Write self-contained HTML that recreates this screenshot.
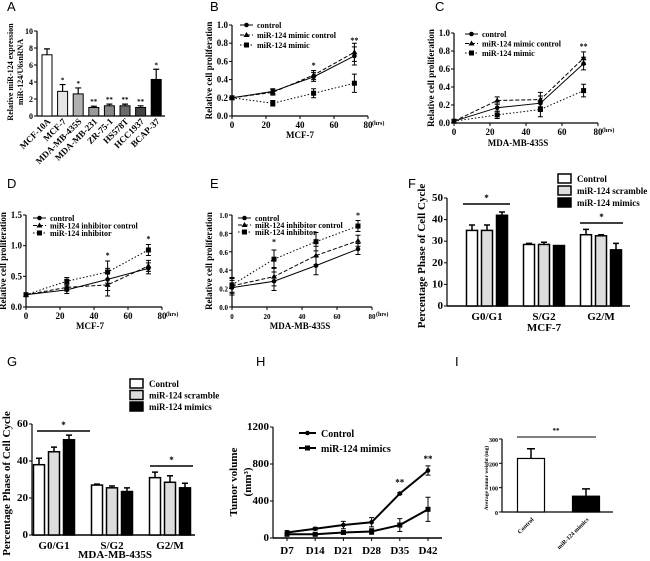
<!DOCTYPE html>
<html><head><meta charset="utf-8">
<style>
html,body{margin:0;padding:0;background:#fff;}
svg{display:block;font-family:"Liberation Serif",serif;font-weight:bold;}
.L{font-family:"Liberation Sans",sans-serif;font-weight:normal;font-size:13px;}
</style></head>
<body>
<svg id="fig" width="650" height="561" viewBox="0 0 650 561" xmlns="http://www.w3.org/2000/svg"></svg>
<script>
// ===== Panel A data =====
const aCats=["MCF-10A","MCF-7","MDA-MB-435S","MDA-MB-231","ZR-75-1","HS578T","HCC1937","BCAP-37"];
const aVals=[7.2,2.9,2.6,1.0,1.2,1.2,1.0,4.3];
const aErr=[0.7,0.8,0.7,0.15,0.2,0.2,0.2,1.2];
const aStars=["","*","*","**","**","**","**","*"];
// ===== Time course data =====
const hrs=[0,24,48,72];
const xTicksHrs=[0,20,40,60,80];
const bCtrl=[0.2,0.27,0.43,0.66], bMimCtrl=[0.2,0.26,0.45,0.70], bMimic=[0.2,0.14,0.25,0.36];
const bErr=[0,0.03,0.05,0.1];
const cCtrl=[0.02,0.17,0.22,0.66], cMimCtrl=[0.02,0.25,0.26,0.72], cMimic=[0.02,0.09,0.15,0.36];
const cErr=[0,0.04,0.08,0.07];
const dCtrl=[0.2,0.28,0.45,0.63], dInhCtrl=[0.2,0.32,0.36,0.67], dInh=[0.2,0.42,0.57,0.93];
const dErr=[0,0.06,0.18,0.09];
const eCtrl=[0.21,0.28,0.45,0.63], eInhCtrl=[0.23,0.33,0.56,0.72], eInh=[0.24,0.52,0.71,0.88];
const eErr=[0.08,0.1,0.1,0.06];
// ===== Cell cycle data =====
const phases=["G0/G1","S/G2","G2/M"];
const fCtrl=[35,28.5,33], fScr=[35,28.5,32.5], fMim=[42,28,26];
const fErrC=[2.5,0.5,2.5], fErrS=[2.5,1,0.5], fErrM=[1.5,0,3];
const gCtrl=[38,27,31], gScr=[45,25.5,28.5], gMim=[51.5,23.5,25.5];
const gErrC=[3.5,0.5,3], gErrS=[2.5,1,3.5], gErrM=[2.5,2,2.5];
// ===== Tumor data =====
const days=["D7","D14","D21","D28","D35","D42"];
const hCtrl=[60,100,140,170,480,730], hMim=[40,40,60,70,140,310];
const hErrC=[20,15,40,50,10,50], hErrM=[15,15,15,30,70,130];
const iCats=["Control","miR-124 mimics"], iVals=[220,65], iErr=[40,30];

const S=document.getElementById('fig'), NS="http://www.w3.org/2000/svg";
function mk(p,tag,at){const e=document.createElementNS(NS,tag);for(const k in at)e.setAttribute(k,at[k]);p.appendChild(e);return e;}
function txt(p,x,y,s,size,anchor,name,extra){const e=mk(p,'text',Object.assign({x:x,y:y,'font-size':size,'text-anchor':anchor||'middle'},extra||{}));e.textContent=s;


return e;}
function grp(name){const g=mk(S,'g',{});


return g;}
function letter(s,x,y){const e=txt(S,x,y,s,13,'start','panel-label-'+s.toLowerCase());e.setAttribute('class','L');}
function yAxis(g,ox,oy,ytop,ymax,ticks,fmt,fs){
  const l=mk(g,'line',{x1:ox,y1:oy,x2:ox,y2:ytop,stroke:'#000','stroke-width':1.2});
  
  
  ticks.forEach(t=>{const y=oy-t/ymax*(oy-ytop);mk(g,'line',{x1:ox-3,y1:y,x2:ox,y2:y,stroke:'#000'});txt(g,ox-4,y+3,fmt(t),fs||9,'end','y-tick-label');});
}
function markerAt(g,kind,x,y,name){let e;
  if(kind==='c')e=mk(g,'circle',{cx:x,cy:y,r:2.3,fill:'#000'});
  else if(kind==='t')e=mk(g,'path',{d:`M${x},${y-3}L${x+3},${y+2}L${x-3},${y+2}Z`,fill:'#000'});
  else e=mk(g,'rect',{x:x-2.5,y:y-2.5,width:5,height:5,fill:'#000'});
  
  
}
function series(g,xs,ys,X,Y,dash,kind,err,name,sw){
  const pts=xs.map((v,i)=>X(v)+','+Y(ys[i])).join(' ');
  const pl=mk(g,'polyline',{points:pts,fill:'none',stroke:'#000','stroke-width':sw||1,'stroke-dasharray':dash});
  
  
  xs.forEach((v,i)=>{const x=X(v),y=Y(ys[i]);
    if(err&&err[i]>0){const y1=Y(ys[i]+err[i]),y2=Y(ys[i]-err[i]);mk(g,'path',{d:`M${x},${y1}V${y2}M${x-2.5},${y1}H${x+2.5}M${x-2.5},${y2}H${x+2.5}`,stroke:'#000','stroke-width':1,fill:'none'});}
    markerAt(g,kind,x,y,name+'-point');});
}
function lineLegend(g,x,y0,dy,labels,kinds,dashes){labels.forEach((s,i)=>{const y=y0+i*dy;
  const l=mk(g,'line',{x1:x,y1:y,x2:x+13,y2:y,stroke:'#000','stroke-dasharray':dashes[i]});
  
  
  markerAt(g,kinds[i],x+6.5,y,'legend-marker');txt(g,x+17,y+3,s,8,'start','legend-entry');});}
function timePanel(name,ox,oy,x80,ytop,ymax,yt,yfmt,data,err,labels,leg,xlabel,xl,fs){
  const g=grp(name);
  const X=v=>ox+v/80*(x80-ox), Y=v=>oy-v/ymax*(oy-ytop);
  yAxis(g,ox,oy,ytop,ymax,yt,yfmt,fs);
  const xa=mk(g,'line',{x1:ox,y1:oy,x2:x80,y2:oy,stroke:'#000','stroke-width':1.2});
  
  
  xTicksHrs.forEach(t=>{mk(g,'line',{x1:X(t),y1:oy,x2:X(t),y2:oy+3,stroke:'#000'});txt(g,X(t),oy+12,String(t),fs||9,'middle','x-tick-label');});
  txt(g,x80+4,oy+9,'(hrs)',6,'start','x-unit');
  const kinds=['c','t','s'],dashes=['none','4,2','1.5,2'];
  data.forEach((d,i)=>series(g,hrs,d,X,Y,dashes[i],kinds[i],err,labels[i].replace(/\s+/g,'-').toLowerCase()));
  lineLegend(g,leg[0],leg[1],leg[2],labels,kinds,dashes);
  txt(g,xl[0],xl[1],xlabel,9,'middle','x-axis-title');
  txt(g,0,0,'Relative cell proliferation',9,'middle','y-axis-title',{transform:`translate(${ox-20},${(oy+ytop)/2}) rotate(-90)`});
  return {g,X,Y};
}
function barPanel(name,ox,oy,ytop,ymax,yt,xend,centers,vals,errs,xlabel,xl,sig,leg){
  const g=grp(name);
  const Y=v=>oy-v/ymax*(oy-ytop);
  yAxis(g,ox,oy,ytop,ymax,yt,String,11);
  const xa=mk(g,'line',{x1:ox,y1:oy,x2:xend,y2:oy,stroke:'#000','stroke-width':1.5});
  
  
  const fills=['#fff','#ddd','#000'],off=[-15,0,15],nm=['control','scramble','mimics'];
  vals.forEach((ser,si)=>ser.forEach((v,i)=>{const x=centers[i]+off[si];
    const e=errs[si][i];
    if(e>0)mk(g,'path',{d:`M${x},${Y(v)}V${Y(v+e)}M${x-3},${Y(v+e)}H${x+3}`,stroke:'#000','stroke-width':1.5});
    const r=mk(g,'rect',{x:x-5.5,y:Y(v),width:11,height:oy-Y(v),fill:fills[si],stroke:'#000','stroke-width':1.5});
    
    }));
  phases.forEach((p,i)=>txt(g,centers[i],oy+14,p,11,'middle','x-tick-label'));
  txt(g,xl[0],xl[1],xlabel,11,'middle','x-axis-title');
  txt(g,0,0,'Percentage Phase of Cell Cycle',11,'middle','y-axis-title',{transform:`translate(${ox-22},${(oy+ytop)/2+4}) rotate(-90)`});
  sig.forEach(s=>{mk(g,'line',{x1:s[0],y1:s[2],x2:s[1],y2:s[2],stroke:'#000','stroke-width':1.5});txt(g,(s[0]+s[1])/2,s[2]-3,'*',9,'middle','significance-star');});
  ['Control','miR-124 scramble','miR-124 mimics'].forEach((s,i)=>{const y=leg[1]+i*leg[2];
    const r=mk(g,'rect',{x:leg[0],y:y-4,width:13,height:9,fill:fills[i],stroke:'#000','stroke-width':1.5});
    
    
    txt(g,leg[0]+19,y+4,s,9,'start','legend-entry');});
}

// Panel letters
[['A',7,11],['B',210,11],['C',435,11],['D',7,188],['E',210,188],['F',408,188],['G',7,366],['H',256,366],['I',455,366]].forEach(a=>letter(a[0],a[1],a[2]));

// ===== Panel A =====
(function(){const g=grp('panel-a');const ox=37,oy=116,ytop=31,ymax=10;
  const Y=v=>oy-v/ymax*(oy-ytop), X=i=>47+i*15.6;
  yAxis(g,ox,oy,ytop,ymax,[0,2,4,6,8,10],String,8);
  const xa=mk(g,'line',{x1:ox,y1:oy,x2:165,y2:oy,stroke:'#000','stroke-width':1.2});
  
  
  const fills=['#fff','#e6e6e6','#b0b0b0','#9a9a9a','#888','#6a6a6a','#444','#000'];
  aVals.forEach((v,i)=>{const x=X(i);
    mk(g,'path',{d:`M${x},${Y(v)}V${Y(v+aErr[i])}M${x-3},${Y(v+aErr[i])}H${x+3}`,stroke:'#000','stroke-width':1.2});
    const r=mk(g,'rect',{x:x-5,y:Y(v),width:10,height:oy-Y(v),fill:fills[i],stroke:'#000','stroke-width':1});
    
    
    txt(g,x,Y(v+aErr[i])-2,aStars[i],7,'middle','significance-star');
    txt(g,0,0,aCats[i],9,'end','x-tick-label',{transform:`translate(${x+4},${oy+6}) rotate(-45)`});});
  txt(g,0,0,'Relative miR-124 expression',8,'middle','y-axis-title',{transform:`translate(13,72) rotate(-90)`});
  txt(g,0,0,'miR-124/U6snRNA',8,'middle','y-axis-title-2',{transform:`translate(23,72) rotate(-90)`});
})();
const f1=v=>v.toFixed(1);
const bP=timePanel('panel-b',232,116,368,25,1.0,[0,0.2,0.4,0.6,0.8,1.0],f1,[bCtrl,bMimCtrl,bMimic],bErr,['control','miR-124 mimic control','miR-124 mimic'],[240,25,10],'MCF-7',[300,138]);
txt(bP.g,bP.X(48),bP.Y(0.53),'*',8,'middle','significance-star');txt(bP.g,bP.X(72),bP.Y(0.8),'**',8,'middle','significance-star');
const cP=timePanel('panel-c',454,123,598,33,1.0,[0,0.2,0.4,0.6,0.8,1.0],f1,[cCtrl,cMimCtrl,cMimic],cErr,['control','miR-124 mimic control','miR-124 mimic'],[465,34,9.5],'MDA-MB-435S',[518,146]);
txt(cP.g,cP.X(72),cP.Y(0.82),'**',8,'middle','significance-star');
const dP=timePanel('panel-d',26,307,162,215,1.5,[0,0.5,1.0,1.5],f1,[dCtrl,dInhCtrl,dInh],dErr,['control','miR-124 inhibitor control','miR-124 inhibitor'],[33,218,7.5],'MCF-7',[90,329]);
[[48,0.8,'*'],[72,1.07,'*']].forEach(s=>txt(dP.g,dP.X(s[0]),dP.Y(s[1]),s[2],8,'middle','significance-star'));
const eP=timePanel('panel-e',232,307,372,215,1.0,[0,0.2,0.4,0.6,0.8,1.0],f1,[eCtrl,eInhCtrl,eInh],eErr,['control','miR-124 inhibitor control','miR-124 inhibitor'],[238,218,7],'MDA-MB-435S',[300,329],7);
[[24,0.68,'*'],[72,0.97,'*']].forEach(s=>txt(eP.g,eP.X(s[0]),eP.Y(s[1]),s[2],8,'middle','significance-star'));

barPanel('panel-f',447,306,198,50,[0,10,20,30,40,50],630,[487,544,601],[fCtrl,fScr,fMim],[fErrC,fErrS,fErrM],'MCF-7',[544,331],[[463,510,204],[580,623,223]],[558,178,12]);
barPanel('panel-g',32,535,424,60,[0,20,40,60],195,[54,112,170],[gCtrl,gScr,gMim],[gErrC,gErrS,gErrM],'MDA-MB-435S',[115,558],[[37,90,431],[150,193,466]],[130,383,11.5]);

// ===== Panel H =====
(function(){const g=grp('panel-h');const ox=273,oy=538,ytop=427,ymax=1200;
  const Y=v=>oy-v/ymax*(oy-ytop), X=i=>287+i*28.2;
  yAxis(g,ox,oy,ytop,ymax,[0,400,800,1200],String,11);
  const xa=mk(g,'line',{x1:ox,y1:oy,x2:442,y2:oy,stroke:'#000','stroke-width':1.5});
  
  
  days.forEach((d,i)=>{mk(g,'line',{x1:X(i),y1:oy,x2:X(i),y2:oy+3,stroke:'#000'});txt(g,X(i),oy+16,d,11,'middle','x-tick-label');});
  const idx=days.map((d,i)=>i);
  series(g,idx,hCtrl,X,Y,'none','c',hErrC,'control',2);
  series(g,idx,hMim,X,Y,'none','s',hErrM,'mimics',2);
  txt(g,X(4),Y(hCtrl[4])-8,'**',9,'middle','significance-star');txt(g,X(5),Y(hCtrl[5]+hErrC[5])-4,'**',9,'middle','significance-star');
  [['Control','c',433],['miR-124 mimics','s',448]].forEach(l=>{const ln=mk(g,'line',{x1:299,y1:l[2],x2:316,y2:l[2],stroke:'#000','stroke-width':2});
    
    
    markerAt(g,l[1],307.5,l[2],'legend-marker');txt(g,321,l[2]+4,l[0],10,'start','legend-entry');});
  txt(g,0,0,'Tumor volume',11,'middle','y-axis-title',{transform:`translate(237,482) rotate(-90)`});
  txt(g,0,0,'(mm\u00b3)',11,'middle','y-axis-unit',{transform:`translate(251,482) rotate(-90)`});
})();
// ===== Panel I =====
(function(){const g=grp('panel-i');const ox=502,oy=512,ytop=439,ymax=300;
  const Y=v=>oy-v/ymax*(oy-ytop), X=i=>531+i*55;
  yAxis(g,ox,oy,ytop,ymax,[0,100,200,300],String,6);
  const xa=mk(g,'line',{x1:ox,y1:oy,x2:613,y2:oy,stroke:'#000','stroke-width':1.2});
  
  
  const fills=['#fff','#000'];
  iVals.forEach((v,i)=>{const x=X(i);
    mk(g,'path',{d:`M${x},${Y(v)}V${Y(v+iErr[i])}M${x-4},${Y(v+iErr[i])}H${x+4}`,stroke:'#000','stroke-width':1.5});
    const r=mk(g,'rect',{x:x-13.5,y:Y(v),width:27,height:oy-Y(v),fill:fills[i],stroke:'#000','stroke-width':1.2});
    
    
    txt(g,0,0,iCats[i],6,'end','x-tick-label',{transform:`translate(${x+3},${oy+8}) rotate(-45)`});});
  mk(g,'line',{x1:517,y1:437,x2:596,y2:437,stroke:'#000','stroke-width':1});
  txt(g,556,433,'**',7,'middle','significance-star');
  txt(g,0,0,'Average tumor weight (mg)',5.5,'middle','y-axis-title',{transform:`translate(488,478) rotate(-90)`});
})();
</script>
</body></html>
